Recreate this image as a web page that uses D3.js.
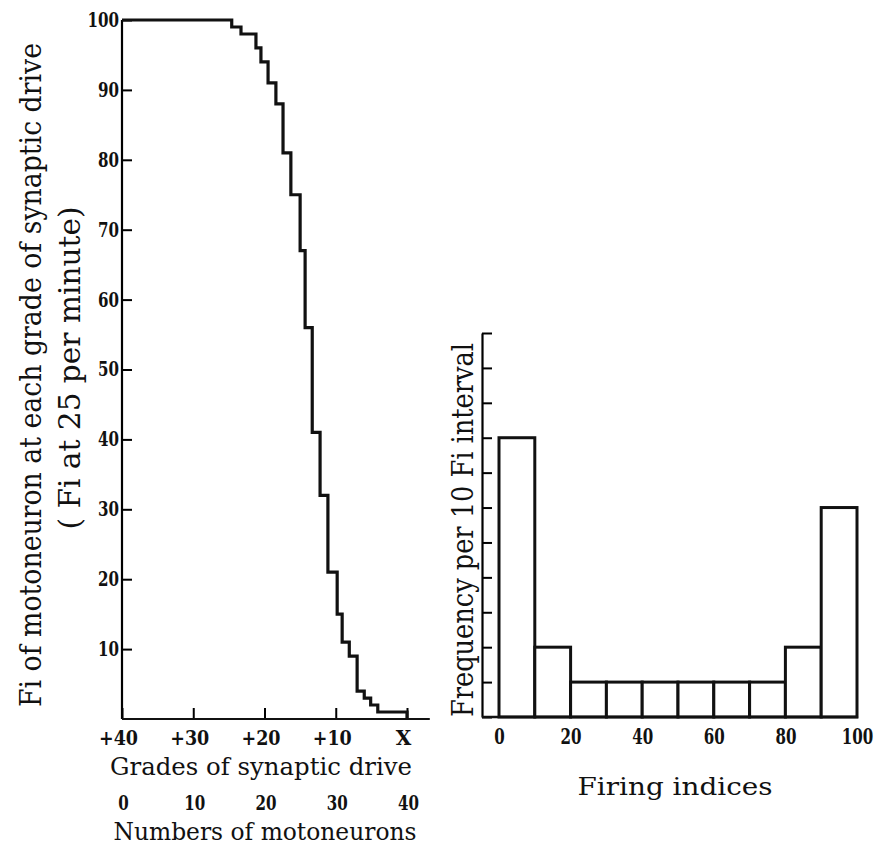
<!DOCTYPE html>
<html>
<head>
<meta charset="utf-8">
<script src="https://cdn.jsdelivr.net/npm/d3@7"></script>
<style>
  body { margin: 0; background: #fff; }
  svg { display: block; }
  text { font-family: "DejaVu Serif", "Liberation Serif", serif; fill: #111; }
  .tick text { font-weight: bold; }
</style>
</head>
<body>
<svg id="chart" width="876" height="850"></svg>
<script>
// left panel: Fi of each motoneuron vs grade of synaptic drive (step curve)
const driveGrades = [40, 24.6, 23.3, 21.2, 20.5, 19.5, 18.4, 17.4, 16.3, 15.0, 14.3, 13.3, 12.2, 11.1, 9.8, 9.1, 8.1, 7.0, 6.0, 5.1, 4.1, 0];
const fiValues    = [100, 99, 98, 96, 94, 91, 88, 81, 75, 67, 56, 41, 32, 21, 15, 11, 9, 4, 3, 2, 1, 0];
const gradeTicks = [40, 30, 20, 10, 0];
const neuronTicks = [0, 10, 20, 30, 40];
const fiTicks = [10, 20, 30, 40, 50, 60, 70, 80, 90, 100];

// right panel: histogram of firing indices
const fiBins = [0, 10, 20, 30, 40, 50, 60, 70, 80, 90];
const binCounts = [8, 2, 1, 1, 1, 1, 1, 1, 2, 6];
const firingTicks = [0, 20, 40, 60, 80, 100];
const freqTicks = d3.range(0, 12);

const svg = d3.select("#chart");

// squeeze text to a given length (the original lettering is narrow)
function squeeze(sel, perChar) {
  sel.attr("textLength", function () { return this.textContent.length * perChar; })
     .attr("lengthAdjust", "spacingAndGlyphs");
}

//// left chart
const xGrade = d3.scaleLinear().domain([40, 0]).range([122, 407]);
const xNeuron = d3.scaleLinear().domain([0, 40]).range([122, 407]);
const yFi = d3.scaleLinear().domain([0, 100]).range([719, 20]);

const left = svg.append("g");

const yAxisL = left.append("g")
  .attr("transform", `translate(${xGrade(40)},0)`)
  .call(d3.axisLeft(yFi).tickValues(fiTicks).tickSize(-10).tickSizeOuter(0).tickPadding(3));
yAxisL.select(".domain").attr("stroke-width", 2.2).attr("d", `M0,${yFi(0)}V${yFi(100)}`);
yAxisL.selectAll(".tick line").attr("stroke-width", 2);
yAxisL.selectAll(".tick text").attr("font-size", 20).call(squeeze, 10.5);

const xAxisL = left.append("g")
  .attr("transform", `translate(0,${yFi(0)})`)
  .call(d3.axisBottom(xGrade).tickValues(gradeTicks).tickSize(-11).tickPadding(12)
    .tickFormat(d => d === 0 ? "X" : "+" + d));
xAxisL.select(".domain").remove();
xAxisL.selectAll(".tick line").attr("stroke-width", 2);
xAxisL.selectAll(".tick text").attr("font-size", 20).attr("dx", -4)
  .filter(d => d !== 0).call(squeeze, 13);
left.append("line")
  .attr("x1", xGrade(40)).attr("x2", xGrade(-3.2))
  .attr("y1", yFi(0)).attr("y2", yFi(0))
  .attr("stroke", "#111").attr("stroke-width", 2.2);

const nAxis = left.append("g")
  .attr("transform", `translate(0,796)`)
  .call(d3.axisBottom(xNeuron).tickValues(neuronTicks).tickSize(0).tickPadding(0));
nAxis.select(".domain").remove();
nAxis.selectAll(".tick text").attr("font-size", 20).attr("dx", 1).call(squeeze, 10.5);

const stepLine = d3.line()
  .x((d, i) => xGrade(driveGrades[i]))
  .y(d => yFi(d))
  .curve(d3.curveStepAfter);

left.append("path")
  .datum(fiValues)
  .attr("d", stepLine)
  .attr("fill", "none")
  .attr("stroke", "#111")
  .attr("stroke-width", 3.2)
  .attr("stroke-linejoin", "miter");

left.append("text")
  .attr("x", 261).attr("y", 775)
  .attr("text-anchor", "middle").attr("font-size", 25)
  .attr("textLength", 302).attr("lengthAdjust", "spacingAndGlyphs")
  .text("Grades of synaptic drive");

left.append("text")
  .attr("x", 265).attr("y", 840)
  .attr("text-anchor", "middle").attr("font-size", 25)
  .attr("textLength", 303).attr("lengthAdjust", "spacingAndGlyphs")
  .text("Numbers of motoneurons");

left.append("text")
  .attr("transform", "translate(41,375) rotate(-90)")
  .attr("text-anchor", "middle").attr("font-size", 29)
  .attr("textLength", 664).attr("lengthAdjust", "spacingAndGlyphs")
  .text("Fi of motoneuron at each grade of synaptic drive");

left.append("text")
  .attr("transform", "translate(80,368) rotate(-90)")
  .attr("text-anchor", "middle").attr("font-size", 29)
  .attr("textLength", 323).attr("lengthAdjust", "spacingAndGlyphs")
  .text("( Fi at 25 per minute)");

//// right chart
const xFire = d3.scaleLinear().domain([0, 100]).range([499, 857]);
const yFreq = d3.scaleLinear().domain([0, 11]).range([717, 333]);

const right = svg.append("g");

right.selectAll("rect.bar")
  .data(fiBins)
  .join("rect")
  .attr("class", "bar")
  .attr("x", d => xFire(d))
  .attr("width", d => xFire(d + 10) - xFire(d))
  .attr("y", (d, i) => yFreq(binCounts[i]))
  .attr("height", (d, i) => yFreq(0) - yFreq(binCounts[i]))
  .attr("fill", "#fff")
  .attr("stroke", "#111")
  .attr("stroke-width", 3);

const yAxisR = right.append("g")
  .attr("transform", `translate(482,0)`)
  .call(d3.axisRight(yFreq).tickValues(freqTicks).tickSize(10).tickSizeOuter(0).tickFormat(""));
yAxisR.select(".domain").attr("stroke-width", 2.2);
yAxisR.selectAll(".tick line").attr("stroke-width", 2);

right.append("line")
  .attr("x1", 482).attr("x2", xFire(100.3))
  .attr("y1", yFreq(0)).attr("y2", yFreq(0))
  .attr("stroke", "#111").attr("stroke-width", 2.5);

const xAxisR = right.append("g")
  .attr("transform", `translate(0,${yFreq(0)})`)
  .call(d3.axisBottom(xFire).tickValues(firingTicks).tickSize(0).tickPadding(11));
xAxisR.select(".domain").remove();
xAxisR.selectAll(".tick text").attr("font-size", 22).call(squeeze, 10.5);

right.append("text")
  .attr("x", 675).attr("y", 795)
  .attr("text-anchor", "middle").attr("font-size", 25)
  .attr("textLength", 195).attr("lengthAdjust", "spacingAndGlyphs")
  .text("Firing indices");

right.append("text")
  .attr("transform", "translate(473,530) rotate(-90)")
  .attr("text-anchor", "middle").attr("font-size", 29)
  .attr("textLength", 374).attr("lengthAdjust", "spacingAndGlyphs")
  .text("Frequency per 10 Fi interval");
</script>
</body>
</html>
